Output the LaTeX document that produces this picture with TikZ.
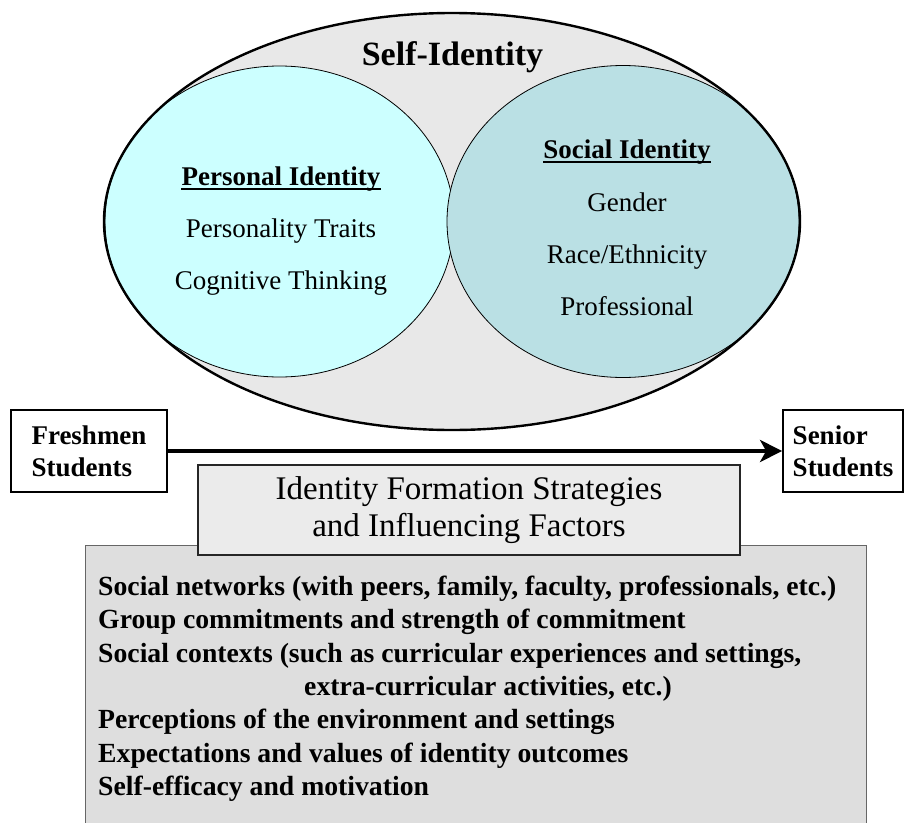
\documentclass[tikz,border=0pt]{standalone}
\usepackage{fontspec}
\setmainfont{Liberation Serif}
\usetikzlibrary{positioning, arrows.meta, shapes.geometric}

\definecolor{selfgray}{RGB}{232,232,232}
\definecolor{personalcyan}{RGB}{204,255,255}
\definecolor{socialteal}{RGB}{186,224,228}
\definecolor{titlegray}{RGB}{235,235,235}
\definecolor{listgray}{RGB}{222,222,222}

\begin{document}
\begin{tikzpicture}[x=1pt, y=-1pt, every node/.style={inner sep=0pt}]
        \tikzset{blob/.style={ellipse, draw=black, line width=0.8pt}}
        \tikzset{studentbox/.style={draw=black, line width=1.8pt, fill=white, align=left, minimum height=82pt, font=\fontsize{27}{32}\selectfont\bfseries}}
        \tikzset{circletext/.style={anchor=base, font=\fontsize{27}{32}\selectfont}}
        \tikzset{factor/.style={anchor=base west, font=\fontsize{27.7}{33}\selectfont\bfseries}}
        % page of the same size as the reference
        \useasboundingbox (0,0) rectangle (905,822);

        % the three identities
        \node[ellipse, fill=selfgray, minimum width=696pt, minimum height=417pt] (self) at (452,221.5) {};
        \node[blob, fill=personalcyan, minimum width=349pt, minimum height=311pt] (personal) at (279.5,221.5) {};
        \node[blob, fill=socialteal, minimum width=352pt, minimum height=312pt] (social) at (623,221.5) {};
        \draw[line width=2.4pt] (self.center) ellipse [x radius=348, y radius=208.5];

        \node[circletext, font=\fontsize{34}{40}\selectfont\bfseries] (selftitle) at (452.5,65) {Self-Identity};

        \node[circletext, font=\fontsize{27}{32}\selectfont\bfseries] (pihead) at (281,185) {Personal Identity};
        \node[circletext] (traits) at (281,237) {Personality Traits};
        \node[circletext] (cognitive) at (281,289) {Cognitive Thinking};
        \draw[line width=1.2pt] ([yshift=-4pt]pihead.base west) -- ([yshift=-4pt]pihead.base east);

        \node[circletext, font=\fontsize{27}{32}\selectfont\bfseries] (sihead) at (627,158) {Social Identity};
        \node[circletext] (gender) at (627,211) {Gender};
        \node[circletext] (race) at (627,263) {Race/Ethnicity};
        \node[circletext] (professional) at (627,315) {Professional};
        \draw[line width=1.2pt] ([yshift=-4pt]sihead.base west) -- ([yshift=-4pt]sihead.base east);

        % from freshmen to seniors
        \node[studentbox, minimum width=156pt] (freshmen) at (89,451) {Freshmen\\Students};
        \node[studentbox, minimum width=120pt] (senior) at (843,451) {Senior\\Students};
        \draw[-{Stealth[length=22pt, width=22pt, inset=6pt]}, line width=4pt] (freshmen) -- (senior);

        % strategies and factors
        \node[draw=black!60, fill=listgray, line width=1pt, minimum width=781pt, minimum height=290pt, anchor=north west] (factorbox) at (85,545) {};
        \node[draw=black!85, fill=titlegray, line width=2pt, minimum width=542pt, minimum height=90pt, align=center, font=\fontsize{33}{37}\selectfont] (strategies) at (469,510) {Identity Formation Strategies\\and Influencing Factors};

        \foreach \row/\indent/\txt [count=\k] in {
                595/98/{Social networks (with peers, family, faculty, professionals, etc.)},
                628/98/{Group commitments and strength of commitment},
                662/98/{Social contexts (such as curricular experiences and settings,},
                695/304/{extra-curricular activities, etc.)},
                728/98/{Perceptions of the environment and settings},
                762/98/{Expectations and values of identity outcomes},
                795/98/{Self-efficacy and motivation}}
                \node[factor] (factor\k) at (\indent,\row) {\txt};
\end{tikzpicture}
\end{document}
